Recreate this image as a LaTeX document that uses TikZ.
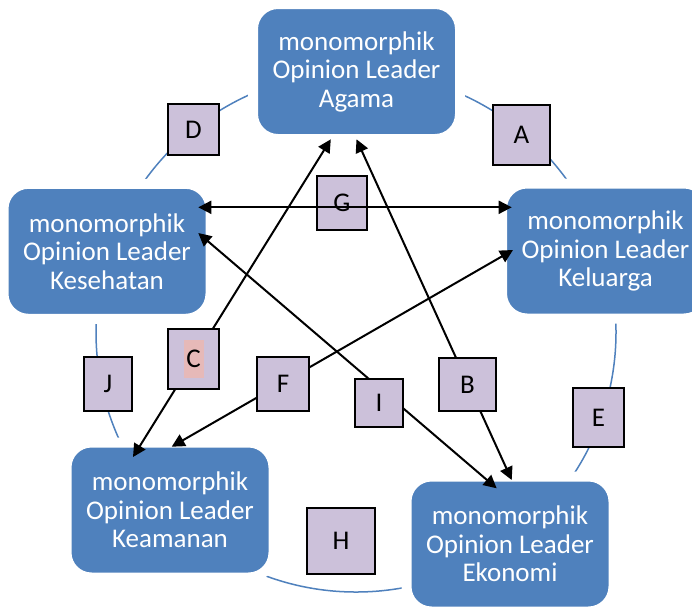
\documentclass[tikz,border=0pt]{standalone}
\usepackage{fontspec}
\setmainfont{Carlito}
\usetikzlibrary{arrows.meta}
\definecolor{boxblue}{HTML}{4F81BD}
\definecolor{lav}{HTML}{CCC1DA}
\definecolor{hl}{HTML}{E6B9B8}
\begin{document}
\begin{tikzpicture}[x=1pt,y=-1pt,
  leader/.style={rectangle, rounded corners=25pt, minimum width=207pt, minimum height=135pt,
    fill=boxblue, draw=white, line width=10pt, text=white, align=center,
    inner sep=0pt, outer sep=0pt, font=\fontsize{27}{28.5}\selectfont},
  lbl/.style={rectangle, draw=black, fill=lav, line width=1.3pt, inner sep=0pt,
    font=\fontsize{27}{28.5}\selectfont},
  dbl/.style={{Triangle[length=13pt,width=13pt]}-{Triangle[length=13pt,width=13pt]}, line width=2pt},
  ring/.style={draw=boxblue, line width=1.5pt}]
\useasboundingbox (0,0) rectangle (692,606);
\clip (0,0) rectangle (692,606);
\fill[white] (0,0) rectangle (692,606);
% ring
\draw[ring] (356,332) circle[radius=260];
% leaders
\node[leader] (aga) at (356.5,71.5) {monomorphik\\Opinion Leader\\Agama};
\node[leader] (kes) at (107,251.3) {monomorphik\\Opinion Leader\\Kesehatan};
\node[leader] (kel) at (605.5,251) {monomorphik\\Opinion Leader\\Keluarga};
\node[leader] (kea) at (170,510) {monomorphik\\Opinion Leader\\Keamanan};
\node[leader] (eko) at (510,544) {monomorphik\\Opinion Leader\\Ekonomi};
% labels on the ring
\node[lbl, minimum width=57pt, minimum height=60pt] (la) at (521.5,135) {A};
\node[lbl, minimum width=51pt, minimum height=51pt] (ld) at (193.5,129.5) {D};
\node[lbl, minimum width=51pt, minimum height=59pt] (le) at (598.5,417.5) {E};
\node[lbl, minimum width=68pt, minimum height=66pt] (lh) at (341,541) {H};
\node[lbl, minimum width=48pt, minimum height=54pt] (lj) at (108,384) {J};
\node[lbl, minimum width=50pt, minimum height=54pt] (lg) at (342,203) {G};
% connectors
\draw[dbl] ([shift={(-12.2,-44)}]kes.east) -- ([shift={(9.7,-43.7)}]kel.west);
\draw[dbl] ([shift={(-12.2,-18.3)}]kes.east) -- ([shift={(-13.3,11.8)}]eko.north);
\draw[dbl] ([shift={(-25.7,0.3)}]aga.south) -- ([shift={(-37,14.5)}]kea.north);
\draw[dbl] ([shift={(0,0.3)}]aga.south) -- ([shift={(1.7,3.5)}]eko.north);
\draw[dbl] ([shift={(11,-1)}]kel.west) -- ([shift={(1.7,4.2)}]kea.north);
% labels on the connectors
\node[lbl, minimum width=51pt, minimum height=60pt,
  path picture={\fill[hl] ([shift={(-10,-19)}]path picture bounding box.center) rectangle ([shift={(10,19)}]path picture bounding box.center);}] (lc) at (193.5,359) {C};
\node[lbl, minimum width=57pt, minimum height=53pt] (lb) at (467.5,384.5) {B};
\node[lbl, minimum width=48pt, minimum height=48pt] (li) at (379,403) {I};
\node[lbl, minimum width=52pt, minimum height=54pt] (lf) at (283,384) {F};
\end{tikzpicture}
\end{document}
